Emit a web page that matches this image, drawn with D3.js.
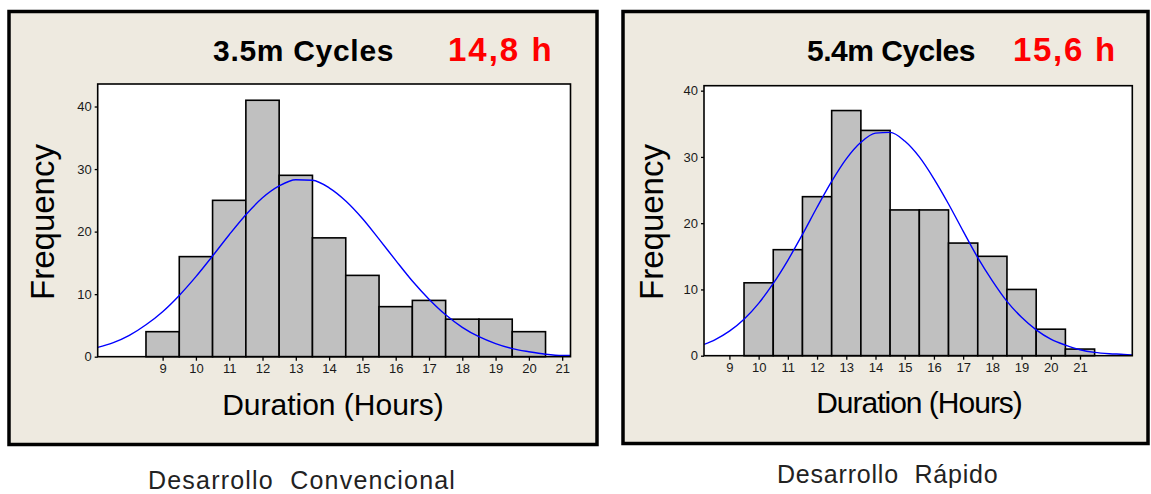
<!DOCTYPE html>
<html>
<head>
<meta charset="utf-8">
<script src="https://cdn.jsdelivr.net/npm/d3@7"></script>
<style>
  body { margin: 0; background: #fff; }
  svg { display: block; }
  .tick text { font-family: 'Liberation Sans Narrow', 'Arial Narrow', 'Liberation Sans', sans-serif; font-size: 13px; fill: #1a1a1a; }
  .tick line { stroke: #000; stroke-width: 1.3; }
</style>
</head>
<body>
<div id="chart"></div>
<script>
// bins are one hour wide, centred on the hour
const convBins = [9, 10, 11, 12, 13, 14, 15, 16, 17, 18, 19, 20];
const convCounts = [4, 16, 25, 41, 29, 19, 13, 8, 9, 6, 6, 4];
const fastBins = [10, 11, 12, 13, 14, 15, 16, 17, 18, 19, 20, 21];
const fastCounts = [11, 16, 24, 37, 34, 22, 22, 17, 15, 10, 4, 1];

// fitted normal curve
const convCurveHours = [7.05, 7.5, 8, 8.5, 9, 9.5, 10, 10.5, 11, 11.5, 12, 12.5, 13, 13.5, 14, 14.5,
  15, 15.5, 16, 16.5, 17, 17.5, 18, 18.5, 19, 19.5, 20, 20.5, 21, 21.25];
const convCurveFreq = [1.5, 2.2, 3.4, 5.1, 7.2, 9.8, 12.8, 16.1, 19.5, 22.7, 25.4, 27.3, 28.3, 28.2, 27.0, 24.9,
  22.1, 18.8, 15.4, 12.1, 9.2, 6.7, 4.7, 3.2, 2.1, 1.3, 0.8, 0.4, 0.2, 0.2];
const fastCurveHours = [8.13, 8.5, 9, 9.5, 10, 10.5, 11, 11.5, 12, 12.5, 13, 13.5, 14, 14.5, 15, 15.5,
  16, 16.5, 17, 17.5, 18, 18.5, 19, 19.5, 20, 20.5, 21, 21.5, 22, 22.5, 22.79];
const fastCurveFreq = [1.7, 2.4, 3.7, 5.5, 7.9, 10.9, 14.4, 18.3, 22.4, 26.3, 29.7, 32.2, 33.6, 33.7, 32.4, 30.0,
  26.7, 22.9, 18.8, 14.8, 11.3, 8.2, 5.8, 3.9, 2.5, 1.6, 0.9, 0.5, 0.3, 0.2, 0.1];

const hourTicks = [9, 10, 11, 12, 13, 14, 15, 16, 17, 18, 19, 20, 21];
const freqTicks = [0, 10, 20, 30, 40];

const width = 1151;
const height = 494;
const sans = "'Liberation Sans', Arial, sans-serif";

const svg = d3.select('#chart').append('svg')
  .attr('width', width)
  .attr('height', height);

function drawPanel(cfg) {
  const g = svg.append('g').attr('class', 'panel');

  // beige card with heavy black frame
  g.append('rect')
    .attr('x', cfg.frame.x).attr('y', cfg.frame.y)
    .attr('width', cfg.frame.w).attr('height', cfg.frame.h)
    .attr('fill', '#eeeae0')
    .attr('stroke', '#000')
    .attr('stroke-width', 3.5);

  const p = cfg.plot;
  const x = d3.scaleLinear().domain(cfg.xDomain).range([p.left, p.right]);
  const y = d3.scaleLinear().domain([0, cfg.yMax]).range([p.bottom, p.top]);

  g.append('rect')
    .attr('x', p.left).attr('y', p.top)
    .attr('width', p.right - p.left).attr('height', p.bottom - p.top)
    .attr('fill', '#fff');

  const clipId = 'clip-' + cfg.id;
  g.append('clipPath').attr('id', clipId)
    .append('rect')
    .attr('x', p.left).attr('y', p.top)
    .attr('width', p.right - p.left).attr('height', p.bottom - p.top);

  const bars = cfg.bins.map((b, i) => ({ hour: b, count: cfg.counts[i] }));
  g.append('g').selectAll('rect.bar')
    .data(bars)
    .enter()
    .append('rect')
    .attr('class', 'bar')
    .attr('x', d => x(d.hour - 0.5))
    .attr('y', d => y(d.count))
    .attr('width', d => x(d.hour + 0.5) - x(d.hour - 0.5))
    .attr('height', d => y(0) - y(d.count))
    .attr('fill', '#c0c0c0')
    .attr('stroke', '#000')
    .attr('stroke-width', 1.6);

  const curve = cfg.curveHours.map((h, i) => ({ hour: h, freq: cfg.curveFreq[i] }));
  const line = d3.line()
    .curve(d3.curveMonotoneX)
    .x(d => x(d.hour))
    .y(d => y(d.freq));
  g.append('path')
    .datum(curve)
    .attr('clip-path', `url(#${clipId})`)
    .attr('d', line)
    .attr('fill', 'none')
    .attr('stroke', '#0000ff')
    .attr('stroke-width', 1.4);

  g.append('rect')
    .attr('x', p.left).attr('y', p.top)
    .attr('width', p.right - p.left).attr('height', p.bottom - p.top)
    .attr('fill', 'none')
    .attr('stroke', '#000')
    .attr('stroke-width', 1.6);

  const xAxis = d3.axisBottom(x).tickValues(hourTicks).tickSize(4).tickPadding(3).tickFormat(d3.format('d'));
  g.append('g')
    .attr('transform', `translate(0, ${p.bottom})`)
    .call(xAxis)
    .call(a => a.select('.domain').remove());

  const yAxis = d3.axisLeft(y).tickValues(freqTicks).tickSize(3).tickPadding(3).tickFormat(d3.format('d'));
  g.append('g')
    .attr('transform', `translate(${p.left}, 0)`)
    .call(yAxis)
    .call(a => a.select('.domain').remove());

  // titles
  g.append('text')
    .attr('x', cfg.title.x).attr('y', cfg.title.y)
    .attr('font-family', sans)
    .attr('font-weight', 'bold')
    .attr('font-size', 30)
    .attr('letter-spacing', cfg.title.spacing)
    .attr('fill', '#000')
    .text(cfg.title.text);

  g.append('text')
    .attr('x', cfg.hours.x).attr('y', cfg.hours.y)
    .attr('font-family', sans)
    .attr('font-weight', 'bold')
    .attr('font-size', 33)
    .attr('letter-spacing', cfg.hours.spacing)
    .attr('fill', '#ff0000')
    .text(cfg.hours.text);

  g.append('text')
    .attr('transform', `translate(${cfg.yLabel.x}, ${cfg.yLabel.y}) rotate(-90)`)
    .attr('text-anchor', 'middle')
    .attr('font-family', sans)
    .attr('font-size', 33)
    .attr('fill', '#000')
    .text('Frequency');

  g.append('text')
    .attr('x', cfg.xLabel.x).attr('y', cfg.xLabel.y)
    .attr('text-anchor', 'middle')
    .attr('font-family', sans)
    .attr('font-size', 30)
    .attr('letter-spacing', cfg.xLabel.spacing)
    .attr('fill', '#000')
    .text('Duration (Hours)');

  svg.append('text')
    .attr('x', cfg.caption.x).attr('y', cfg.caption.y)
    .attr('font-family', sans)
    .attr('font-size', 25)
    .attr('letter-spacing', cfg.caption.spacing)
    .attr('fill', '#222')
    .style('white-space', 'pre')
    .text(cfg.caption.text);
}

drawPanel({
  id: 'conv',
  frame: { x: 9, y: 11.5, w: 588, h: 433 },
  plot: { left: 97.7, top: 84, right: 570.5, bottom: 356.7 },
  xDomain: [7.05, 21.25],
  yMax: 43.6,
  bins: convBins, counts: convCounts,
  curveHours: convCurveHours, curveFreq: convCurveFreq,
  title: { text: '3.5m Cycles', x: 213, y: 61, spacing: 0.7 },
  hours: { text: '14,8 h', x: 448, y: 61, spacing: 2 },
  yLabel: { x: 53.5, y: 222 },
  xLabel: { x: 333, y: 415, spacing: 0 },
  caption: { text: 'Desarrollo  Convencional', x: 148, y: 488.5, spacing: 1.2 }
});

drawPanel({
  id: 'fast',
  frame: { x: 623, y: 11.5, w: 525, h: 432 },
  plot: { left: 704, top: 85.7, right: 1132.3, bottom: 355.7 },
  xDomain: [8.13, 22.79],
  yMax: 40.75,
  bins: fastBins, counts: fastCounts,
  curveHours: fastCurveHours, curveFreq: fastCurveFreq,
  title: { text: '5.4m Cycles', x: 807, y: 61, spacing: -0.5 },
  hours: { text: '15,6 h', x: 1013, y: 61, spacing: 1.7 },
  yLabel: { x: 663, y: 222 },
  xLabel: { x: 919, y: 413, spacing: -1 },
  caption: { text: 'Desarrollo  Rápido', x: 777, y: 483, spacing: 0.8 }
});
</script>
</body>
</html>
